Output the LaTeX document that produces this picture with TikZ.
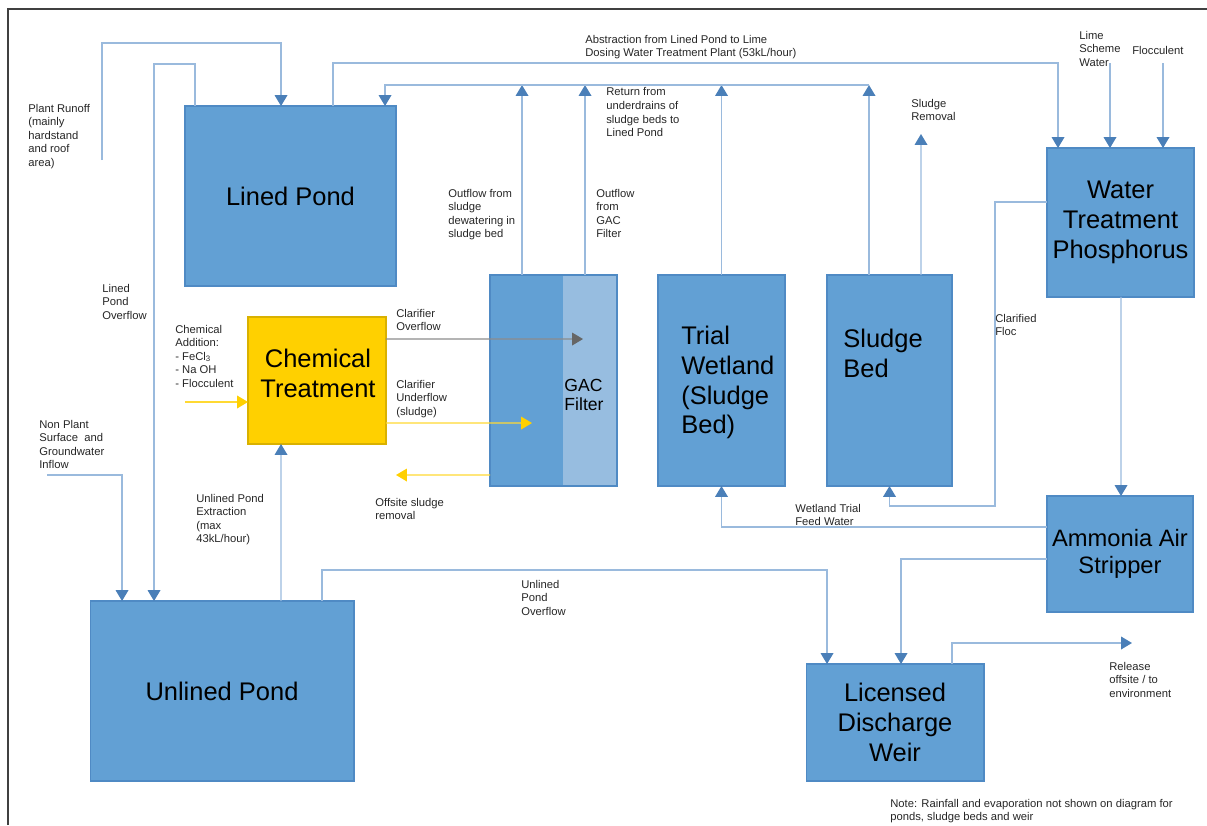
\documentclass[tikz,border=0pt]{standalone}
\usepackage{fontspec}
\setmainfont{Liberation Sans}
\usetikzlibrary{arrows.meta,calc}

\definecolor{boxblue}{HTML}{62A0D4}
\definecolor{boxedge}{HTML}{4F8AC4}
\definecolor{gaclight}{HTML}{97BDE0}
\definecolor{chemyellow}{HTML}{FFD000}
\definecolor{pipe}{HTML}{9ABAdD}
\definecolor{tipblue}{HTML}{4A7FB8}

\begin{document}
\begin{tikzpicture}[x=0.02cm,y=-0.02cm,
  unit/.style={draw=boxedge,fill=boxblue,line width=0.6pt,inner sep=0pt,outer sep=0pt,
               align=center,font=\fontsize{14.5}{17}\selectfont},
  bigtext/.style={inner sep=0pt,font=\fontsize{14.5}{17}\selectfont},
  lbl/.style={inner sep=0pt,anchor=north west,align=left,text=black!85,
              font=\fontsize{6.4}{7.7}\selectfont},
  flow/.style={draw=pipe,line width=0.75pt,-{Triangle[width=7.2pt,length=6.2pt,color=tipblue]}},
  sflow/.style={draw=chemyellow!80,line width=0.75pt,-{Triangle[width=7.2pt,length=6.2pt,color=chemyellow]}},
  gflow/.style={draw=black!45,line width=0.75pt,-{Triangle[width=7.2pt,length=6.2pt,color=black!60]}}]
  \useasboundingbox (0,0) rectangle (1207,825);
  \draw[black!75,line width=0.6pt] (8,825) -- (8,9) -- (1207,9);

  % process units
  \node[unit,minimum width=4.22cm,minimum height=3.6cm] (lined) at (290.5,196) {Lined Pond};
  \node[unit,fill=chemyellow,draw=chemyellow!85!black,minimum width=2.76cm,minimum height=2.54cm] (chem) at (317,380.5) {};
  \node[bigtext,align=center] (chemtext) at (318,373) {Chemical\\Treatment};
  \node[unit,minimum width=2.54cm,minimum height=4.22cm] (gac) at (553.5,380.5) {};
  \fill[gaclight] ($(gac.north west)+(73,0.5)$) rectangle ($(gac.south east)+(-0.5,-0.5)$);
  \node[inner sep=0pt,align=left,font=\fontsize{10}{11}\selectfont] (gactext) at (584,395) {GAC\\Filter};
  \node[unit,minimum width=2.54cm,minimum height=4.22cm] (wetland) at (721.5,380.5) {};
  \node[bigtext,anchor=west,align=left] (wetlandtext) at (681,382.5) {Trial\\Wetland\\(Sludge\\Bed)};
  \node[unit,minimum width=2.5cm,minimum height=4.22cm] (sbed) at (889.5,380.5) {};
  \node[bigtext,anchor=west,align=left] (sbedtext) at (843,353) {Sludge\\Bed};
  \node[unit,minimum width=2.94cm,minimum height=2.98cm] (wtp) at (1120.5,222.5) {Water\\Treatment\\Phosphorus};
  \node[unit,font=\fontsize{13.5}{15.4}\selectfont,minimum width=2.92cm,minimum height=2.32cm] (strip) at (1120,554) {Ammonia Air\\Stripper};
  \node[unit,minimum width=5.28cm,minimum height=3.6cm] (unlined) at (222,691) {Unlined Pond};
  \node[unit,minimum width=3.56cm,minimum height=2.34cm] (weir) at (895,722.5) {Licensed\\Discharge\\Weir};

  % free ends
  \coordinate (runoffin) at (102,160);
  \coordinate (nonplantin) at (47,475);
  \coordinate (chemin) at (185,402);
  \coordinate (limein) at (1110,63);
  \coordinate (flocin) at (1163,63);
  \coordinate (offsite) at (396,475);
  \coordinate (release) at (1132,643);
  \coordinate (sludgeout) at (921,134);

  % flows
  \draw[flow] (runoffin) -- (runoffin |- 0,43) -| ($(lined.north west)+(96,0)$);
  \draw[flow] ($(lined.north west)+(10,0)$) -- ++(0,-42) -| ($(unlined.north west)+(64,0)$);
  \draw[flow] ($(lined.north west)+(148,0)$) -- ++(0,-43) -| ($(wtp.north west)+(11,0)$);
  \draw[flow] ($(gac.north west)+(32,0)$) -- ++(0,-190);
  \draw[flow] ($(gac.north west)+(95,0)$) -- ++(0,-190);
  \draw[flow] (wetland.north) -- ++(0,-190);
  \draw[flow] ($(sbed.north west)+(42,0)$) -- ++(0,-190);
  \draw[flow] ($(sbed.north west)+(42,-190)$) -| ($(lined.north west)+(200,0)$);
  \draw[flow] ($(sbed.north west)+(94,0)$) -- (sludgeout);
  \draw[flow] (limein) -- (limein |- wtp.north);
  \draw[flow] (flocin) -- (flocin |- wtp.north);
  \draw[flow] ($(wtp.north west)+(0,54)$) -- ++(-52,0) |- ($(sbed.south)+(0,20)$) -- (sbed.south);
  \draw[flow] ($(wtp.south west)+(74,0)$) -- ($(strip.north west)+(74,0)$);
  \draw[flow] ($(strip.north west)+(0,31)$) -| (wetland.south);
  \draw[flow] ($(strip.north west)+(0,63)$) -| ($(weir.north west)+(95,0)$);
  \draw[flow] ($(weir.north west)+(146,0)$) |- (release);
  \draw[flow] (nonplantin) -| ($(unlined.north west)+(32,0)$);
  \draw[flow] ($(unlined.north west)+(191,0)$) -- ($(chem.south west)+(33,0)$);
  \draw[flow] ($(unlined.north west)+(232,0)$) -- ++(0,-31) -| ($(weir.north west)+(21,0)$);
  \draw[sflow] (chemin) -- (chemin -| chem.west);
  \draw[gflow] ($(chem.north east)+(0,22)$) -- ($(gac.north west)+(93,64)$);
  \draw[sflow] ($(chem.north east)+(0,106)$) -- ($(gac.north west)+(42,148)$);
  \draw[sflow] ($(gac.north west)+(0,200)$) -- (offsite);

  % labels
  \node[lbl] (lrunoff) at (28,103.5) {Plant Runoff\\(mainly\\hardstand\\and roof\\area)};
  \node[lbl] (llinedover) at (102,283.5) {Lined\\Pond\\Overflow};
  \node[lbl] (labstract) at (585,34.5) {Abstraction from Lined Pond to Lime\\Dosing Water Treatment Plant (53kL/hour)};
  \node[lbl] (lreturn) at (606,87.5) {Return from\\underdrains of\\sludge beds to\\Lined Pond};
  \node[lbl] (ldewater) at (448,188.5) {Outflow from\\sludge\\dewatering in\\sludge bed};
  \node[lbl] (lgacout) at (596,188.5) {Outflow\\from\\GAC\\Filter};
  \node[lbl] (lsludge) at (911,98.5) {Sludge\\Removal};
  \node[lbl] (llime) at (1079,30.5) {Lime\\Scheme\\Water};
  \node[lbl] (lfloc) at (1132,45.5) {Flocculent};
  \node[lbl] (lchemadd) at (175,324.5) {Chemical\\Addition:\\- FeCl\textsubscript{3}\\- Na OH\\- Flocculent};
  \node[lbl] (lclarover) at (396,308.5) {Clarifier\\Overflow};
  \node[lbl] (lclarunder) at (396,379.5) {Clarifier\\Underflow\\(sludge)};
  \node[lbl] (loffsite) at (375,497.5) {Offsite sludge\\removal};
  \node[lbl] (lnonplant) at (39,419.5) {Non Plant\\Surface~ and\\Groundwater\\Inflow};
  \node[lbl] (lextract) at (196,493.5) {Unlined Pond\\Extraction\\(max\\43kL/hour)};
  \node[lbl] (lclarfloc) at (995,313.5) {Clarified\\Floc};
  \node[lbl] (lfeed) at (795,503.5) {Wetland Trial\\Feed Water};
  \node[lbl] (lunlinedover) at (521,579.5) {Unlined\\Pond\\Overflow};
  \node[lbl] (lrelease) at (1109,661.5) {Release\\offsite / to\\environment};
  \node[lbl] (lnote) at (890,798.5) {Note: Rainfall and evaporation not shown on diagram for\\ponds, sludge beds and weir};
\end{tikzpicture}
\end{document}
